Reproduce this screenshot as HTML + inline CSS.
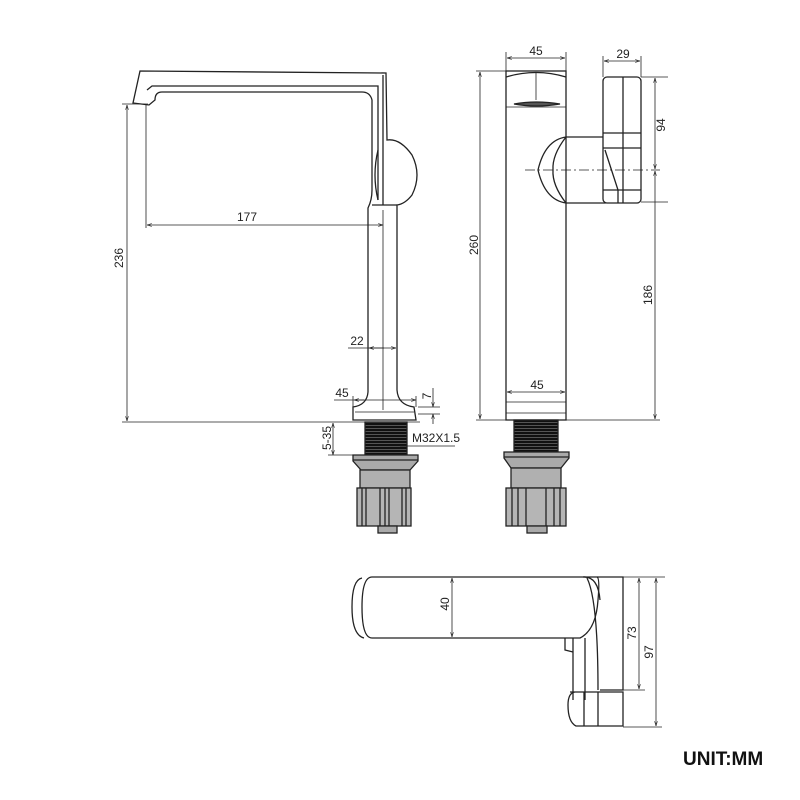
<!DOCTYPE html>
<html><head><meta charset="utf-8"><style>
html,body{margin:0;padding:0;background:#fff}
svg{display:block}
text{font-family:"Liberation Sans",sans-serif;font-size:12px;fill:#222}
</style></head><body>
<svg width="800" height="800" viewBox="0 0 800 800" xmlns="http://www.w3.org/2000/svg">
<defs>
<marker id="a" viewBox="0 0 10 10" refX="10" refY="5" markerWidth="6" markerHeight="6" orient="auto-start-reverse"><path d="M0,2 L10,5 L0,8" fill="none" stroke="#222" stroke-width="1.2"/></marker>
<pattern id="th" width="4" height="3" patternUnits="userSpaceOnUse"><rect width="4" height="3" fill="#111"/><rect y="2" width="4" height="1" fill="#555"/></pattern>
</defs>
<g fill="none" stroke="#222" stroke-width="1.3">
<!-- LEFT VIEW -->
<path d="M140,71 L386,73 L387,140 Q400,138 412,155 Q422,175 412,195 Q405,204 397,205 L397,390 Q398,405 414,407 L416,420 L353,420 L353,407 Q367,405 368,392 L368,208 Q372,200 372,190 L372,100 Q370,92 362,92 L162,92 Q155,92 155,100 L149,105 L133,103 Z" fill="#fff"/>
<path d="M147,90 L152,86 L378,86 L378,200"/>
<path d="M383,75 L383,205"/>
<path d="M378,150 Q372,175 378,200"/>
<path d="M372,205 L397,205"/>
<path d="M383,210 L383,410" stroke-width="0.8"/>
<path d="M355,412 L414,412" stroke-width="0.8"/>
<!-- left fittings -->
<rect x="365" y="422" width="42" height="33" fill="url(#th)" stroke="#222"/>
<path d="M353,455 L418,455 L418,461 L410,470 L361,470 L353,461 Z" fill="#aaa"/>
<line x1="353" y1="460" x2="418" y2="460"/>
<rect x="360" y="470" width="50" height="18" fill="#b0b0b0"/>
<rect x="357" y="488" width="54" height="38" fill="#b5b5b5"/>
<path d="M362,488 V526 M366,488 V526 M380,488 V526 M385,488 V526 M389,488 V526 M402,488 V526 M406,488 V526"/>
<rect x="378" y="526" width="19" height="7" fill="#aaa"/>
<!-- left dims -->
<g stroke-width="0.8">
<line x1="122" y1="422" x2="420" y2="422"/>
<line x1="122" y1="104" x2="148" y2="104"/>
<line x1="127" y1="105" x2="127" y2="421" marker-start="url(#a)" marker-end="url(#a)"/>
<line x1="146" y1="104" x2="146" y2="228"/>
<line x1="147" y1="225" x2="383" y2="225" marker-start="url(#a)" marker-end="url(#a)"/>
<line x1="348" y1="348" x2="396" y2="348" marker-end="url(#a)"/>
<line x1="384" y1="348" x2="369" y2="348" marker-end="url(#a)"/>
<line x1="334" y1="400" x2="416" y2="400" marker-end="url(#a)"/>
<line x1="364" y1="400" x2="354" y2="400" marker-end="url(#a)"/>
<line x1="353" y1="396" x2="353" y2="407"/><line x1="416" y1="396" x2="416" y2="407"/>
<line x1="433" y1="388" x2="433" y2="407" marker-end="url(#a)"/>
<line x1="433" y1="424" x2="433" y2="414" marker-end="url(#a)"/>
<line x1="418" y1="407" x2="440" y2="407"/><line x1="418" y1="414" x2="440" y2="414"/>
<line x1="333" y1="423" x2="333" y2="455" marker-start="url(#a)" marker-end="url(#a)"/>
<line x1="328" y1="455" x2="355" y2="455"/>
<line x1="400" y1="446" x2="455" y2="446"/>
</g>
<!-- RIGHT VIEW -->
<rect x="506" y="71" width="60" height="349" fill="#fff"/>
<path d="M506,77 Q536,68 566,77"/>
<line x1="536" y1="72" x2="536" y2="100" stroke-width="0.8"/>
<path d="M514,104 Q536,100 560,104 Q536,108 514,104 Z" fill="#555"/>
<line x1="506" y1="107" x2="566" y2="107" stroke-width="0.8"/>
<path d="M566,137 L605,137 L605,203 L566,203"/>
<path d="M566,137 Q545,140 538,170 Q545,200 566,203"/>
<path d="M566,137 Q552,155 553,170 Q552,185 566,203"/>
<rect x="603" y="77" width="38" height="126" rx="4" fill="#fff"/>
<path d="M623,77 V203 M603,133 H641 M603,148 H641 M603,190 H641"/>
<path d="M605,150 L618,190 V203"/>
<line x1="506" y1="402" x2="566" y2="402" stroke-width="0.8"/>
<line x1="506" y1="413" x2="566" y2="413" stroke-width="0.8"/>
<rect x="514" y="420" width="44" height="32" fill="url(#th)" stroke="#222"/>
<path d="M504,452 L569,452 L569,458 L561,468 L511,468 L504,458 Z" fill="#aaa"/>
<line x1="504" y1="457" x2="569" y2="457"/>
<rect x="511" y="468" width="50" height="20" fill="#b0b0b0"/>
<rect x="506" y="488" width="60" height="38" fill="#b5b5b5"/>
<path d="M512,488 V526 M518,488 V526 M526,488 V526 M546,488 V526 M554,488 V526 M560,488 V526"/>
<rect x="527" y="526" width="20" height="7" fill="#aaa"/>
<g stroke-width="0.8">
<line x1="476" y1="71" x2="506" y2="71"/>
<line x1="476" y1="420" x2="506" y2="420"/>
<line x1="480" y1="72" x2="480" y2="419" marker-start="url(#a)" marker-end="url(#a)"/>
<line x1="506" y1="52" x2="506" y2="71"/><line x1="566" y1="52" x2="566" y2="71"/>
<line x1="507" y1="58" x2="565" y2="58" marker-start="url(#a)" marker-end="url(#a)"/>
<line x1="603" y1="56" x2="603" y2="77"/><line x1="641" y1="56" x2="641" y2="77"/>
<line x1="604" y1="61" x2="640" y2="61" marker-start="url(#a)" marker-end="url(#a)"/>
<line x1="641" y1="77" x2="668" y2="77"/>
<line x1="641" y1="202" x2="668" y2="202"/>
<line x1="566" y1="420" x2="660" y2="420"/>
<line x1="655" y1="78" x2="655" y2="169" marker-start="url(#a)" marker-end="url(#a)"/>
<line x1="655" y1="171" x2="655" y2="419" marker-start="url(#a)" marker-end="url(#a)"/>
<line x1="525" y1="170" x2="660" y2="170" stroke-dasharray="10,3,2,3"/>
<line x1="507" y1="392" x2="565" y2="392" marker-start="url(#a)" marker-end="url(#a)"/>
</g>
<!-- BOTTOM VIEW -->
<path d="M372,577 L597,577 Q600,578 598,600 Q596,630 580,638 L372,638 Q362,638 362,607 Q362,577 372,577 Z" fill="#fff"/>
<path d="M362,578 Q352,580 352,607 Q352,635 364,638"/>
<path d="M583,577 Q598,576 600,600"/>
<path d="M597,577 L623,577 L623,690 L600,690"/>
<path d="M587,578 Q598,600 598,690"/>
<path d="M585,638 L585,700 M573,638 L573,700"/>
<path d="M565,638 L565,650 L573,652"/>
<path d="M570,692 L623,692 L623,726 L576,726 Q568,722 568,705 Q568,693 575,692"/>
<path d="M584,692 L584,726 M598,692 L598,726"/>
<g stroke-width="0.8">
<line x1="452" y1="578" x2="452" y2="637" marker-start="url(#a)" marker-end="url(#a)"/>
<line x1="623" y1="577" x2="665" y2="577"/>
<line x1="623" y1="690" x2="645" y2="690"/>
<line x1="623" y1="727" x2="662" y2="727"/>
<line x1="639" y1="578" x2="639" y2="689" marker-start="url(#a)" marker-end="url(#a)"/>
<line x1="656" y1="578" x2="656" y2="726" marker-start="url(#a)" marker-end="url(#a)"/>
</g>
</g>
<!-- labels -->
<text x="247" y="221" text-anchor="middle">177</text>
<text x="357" y="345" text-anchor="middle">22</text>
<text x="342" y="397" text-anchor="middle">45</text>
<text x="412" y="442">M32X1.5</text>
<text transform="translate(123,258) rotate(-90)" text-anchor="middle">236</text>
<text transform="translate(431,396) rotate(-90)" text-anchor="middle">7</text>
<text transform="translate(331,438) rotate(-90)" text-anchor="middle">5-35</text>
<text transform="translate(478,245) rotate(-90)" text-anchor="middle">260</text>
<text x="536" y="55" text-anchor="middle">45</text>
<text x="623" y="58" text-anchor="middle">29</text>
<text transform="translate(665,125) rotate(-90)" text-anchor="middle">94</text>
<text transform="translate(652,295) rotate(-90)" text-anchor="middle">186</text>
<text x="537" y="389" text-anchor="middle">45</text>
<text transform="translate(449,604) rotate(-90)" text-anchor="middle">40</text>
<text transform="translate(636,633) rotate(-90)" text-anchor="middle">73</text>
<text transform="translate(653,652) rotate(-90)" text-anchor="middle">97</text>
<text x="683" y="765" style="font-size:19px;font-weight:bold;fill:#111">UNIT:MM</text>
</svg>
</body></html>
